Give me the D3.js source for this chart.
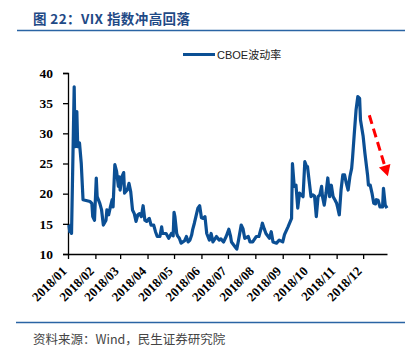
<!DOCTYPE html>
<html><head><meta charset="utf-8">
<script src="https://cdn.jsdelivr.net/npm/d3@7"></script>
<style>
html,body{margin:0;padding:0;background:#fff;}
svg{display:block;}
</style></head>
<body>
<svg id="c" width="419" height="357"></svg>
<script>
const dates = ["2018-01-02","2018-01-03","2018-01-04","2018-01-05","2018-01-08","2018-01-09","2018-01-11","2018-01-12","2018-01-14","2018-01-16","2018-01-18","2018-01-26","2018-01-28","2018-01-29","2018-01-31",
"2018-02-02","2018-02-03","2018-02-06","2018-02-08","2018-02-10","2018-02-13","2018-02-14","2018-02-16","2018-02-18","2018-02-20","2018-02-21","2018-02-23","2018-02-25","2018-02-27","2018-02-28",
"2018-03-01","2018-03-03","2018-03-05","2018-03-06","2018-03-09","2018-03-11","2018-03-13","2018-03-15","2018-03-17","2018-03-19","2018-03-21","2018-03-23","2018-03-25","2018-03-27","2018-03-29","2018-03-31",
"2018-04-03","2018-04-05","2018-04-08","2018-04-10","2018-04-12","2018-04-15","2018-04-17","2018-04-18","2018-04-22","2018-04-25","2018-04-28","2018-04-30",
"2018-05-01","2018-05-02","2018-05-04","2018-05-05","2018-05-07","2018-05-09","2018-05-11","2018-05-13","2018-05-15","2018-05-17","2018-05-19","2018-05-21","2018-05-22","2018-05-24","2018-05-27","2018-05-28","2018-05-30",
"2018-06-01","2018-06-03","2018-06-05","2018-06-07","2018-06-10","2018-06-12","2018-06-14","2018-06-18","2018-06-21","2018-06-23","2018-06-26","2018-06-29",
"2018-07-02","2018-07-04","2018-07-05","2018-07-09","2018-07-11","2018-07-13","2018-07-16","2018-07-18","2018-07-20","2018-07-24","2018-07-26","2018-07-29",
"2018-08-02","2018-08-05","2018-08-08","2018-08-09","2018-08-11","2018-08-13","2018-08-17","2018-08-19","2018-08-21","2018-08-25","2018-08-28",
"2018-09-01","2018-09-03","2018-09-07","2018-09-11","2018-09-12","2018-09-14","2018-09-16","2018-09-18","2018-09-20","2018-09-22","2018-09-24","2018-09-26","2018-09-28","2018-09-29",
"2018-10-01","2018-10-03","2018-10-05","2018-10-07","2018-10-09","2018-10-11","2018-10-13","2018-10-15","2018-10-16","2018-10-18","2018-10-20","2018-10-22","2018-10-24","2018-10-26","2018-10-28","2018-10-30",
"2018-11-01","2018-11-02","2018-11-04","2018-11-06","2018-11-08","2018-11-10","2018-11-12","2018-11-14","2018-11-16","2018-11-18","2018-11-19","2018-11-21","2018-11-23","2018-11-25","2018-11-27","2018-11-28",
"2018-12-01","2018-12-03","2018-12-06","2018-12-07","2018-12-09","2018-12-11","2018-12-13","2018-12-15","2018-12-16","2018-12-18","2018-12-20","2018-12-23","2018-12-24","2018-12-25","2018-12-26","2018-12-28"];
const vix = [14.8,13.7,14.8,13.4,37.7,27.8,33.6,27.8,28.4,25.0,19.0,18.7,18.4,16.2,15.6,
22.6,19.5,18.4,17.3,14.8,15.6,17.3,16.5,17.8,19.0,17.8,24.8,23.7,21.2,22.8,
20.6,22.8,23.5,20.1,20.6,21.7,20.3,17.3,16.7,15.4,16.5,16.7,16.2,18.0,15.6,15.4,
15.9,14.8,14.8,13.7,12.9,12.9,14.5,13.4,13.4,12.6,13.4,13.0,
16.9,16.2,13.4,13.0,12.6,11.8,12.0,12.2,12.9,12.0,12.3,13.2,14.0,15.1,17.0,17.6,18.0,
16.0,15.9,16.2,13.4,12.3,13.4,12.0,12.9,12.3,12.5,12.0,12.9,
14.1,12.9,12.0,11.2,10.8,12.3,14.8,14.2,12.6,12.9,12.0,12.0,
12.9,12.9,14.5,15.1,14.2,13.4,12.6,13.7,12.0,11.8,12.3,
12.0,13.2,14.5,15.9,25.0,21.2,21.4,17.6,20.1,19.8,19.5,25.3,24.5,24.5,
22.0,19.5,19.8,19.6,16.2,19.5,19.8,21.2,19.5,18.1,20.1,22.6,19.5,21.4,19.5,19.0,
18.4,17.8,16.5,20.6,23.1,23.1,21.7,20.6,22.8,24.2,25.9,30.0,33.9,36.1,35.8,32.2,
29.5,26.7,23.1,21.4,21.4,20.1,18.4,18.3,19.0,18.9,17.8,17.8,20.9,19.5,18.1,17.6];
const monthTicks = ["2018-01-01","2018-02-01","2018-03-01","2018-04-01","2018-05-01","2018-06-01","2018-07-01","2018-08-01","2018-09-01","2018-10-01","2018-11-01","2018-12-01"];
const yTicks = [10,15,20,25,30,35,40];
const seriesName = "CBOE波动率";
const titleText = "图 22：VIX 指数冲高回落";
const sourceText = "资料来源：Wind，民生证券研究院";
const arrowFrom = {date:"2018-12-08", value:33.0};
const arrowTo = {date:"2018-12-29", value:22.9};

const parse = d3.utcParse("%Y-%m-%d");
const fmt = d3.utcFormat("%Y/%m");
const data = dates.map((d,i)=>({date:parse(d), value:vix[i]}));

const svg = d3.select("#c");
const L=68, R=387, T=73, B=254;
const x = d3.scaleUtc().domain([parse("2018-01-01"), parse("2018-12-28")]).range([L,R]);
const y = d3.scaleLinear().domain([10,40]).range([B,T]);

// title
svg.append("text").attr("x",33).attr("y",24)
  .attr("font-family","'Noto Sans CJK SC'").attr("font-weight","bold").attr("font-size",13.5)
  .attr("letter-spacing",0.4)
  .attr("fill","#1f4a86").text(titleText);
svg.append("line").attr("x1",17).attr("x2",405).attr("y1",30.5).attr("y2",30.5)
  .attr("stroke","#2a64a4").attr("stroke-width",1.5);

// axes
const yAxis = d3.axisLeft(y).tickValues(yTicks).tickSize(5).tickPadding(10);
const gy = svg.append("g").attr("transform",`translate(${L},0)`).call(yAxis);
gy.select(".domain").attr("stroke","#000").attr("stroke-width",1.3);
gy.selectAll(".tick line").attr("stroke","#000").attr("stroke-width",1.3);
gy.selectAll("text").attr("font-family","'Liberation Serif'").attr("font-weight","bold").attr("font-size",13.5).attr("fill","#000");

const xAxis = d3.axisBottom(x).tickValues(monthTicks.map(parse)).tickFormat(fmt).tickSize(5).tickSizeOuter(0);
const gx = svg.append("g").attr("transform",`translate(0,${B})`).call(xAxis);
gx.select(".domain").attr("stroke","#000").attr("stroke-width",1.3);
gx.selectAll(".tick line").attr("stroke","#000").attr("stroke-width",1.3);
gx.selectAll("text").attr("font-family","'Liberation Serif'").attr("font-weight","bold").attr("font-size",13).attr("fill","#000")
  .attr("text-anchor","end").attr("dx","0").attr("dy","0").attr("y",0)
  .attr("transform","translate(-1,18) rotate(-45)");

// line
const line = d3.line().x(d=>x(d.date)).y(d=>y(d.value)).curve(d3.curveLinear);
svg.append("path").datum(data).attr("d",line).attr("fill","none")
  .attr("stroke","#0b4f94").attr("stroke-width",3.2).attr("stroke-linejoin","round");

// legend
svg.append("line").attr("x1",183).attr("x2",215).attr("y1",54.5).attr("y2",54.5)
  .attr("stroke","#0b4f94").attr("stroke-width",3);
svg.append("text").attr("x",217).attr("y",58.5)
  .attr("font-family","'Liberation Sans','Noto Sans CJK SC'").attr("font-size",11).attr("fill","#222")
  .text(seriesName);

// red dashed arrow
const ax1=x(parse(arrowFrom.date)), ay1=y(arrowFrom.value), ax2=x(parse(arrowTo.date)), ay2=y(arrowTo.value);
const ang=Math.atan2(ay2-ay1, ax2-ax1);
const headLen=11, headW=6;
const bx=ax2-headLen*Math.cos(ang), by=ay2-headLen*Math.sin(ang);
svg.append("line").attr("x1",ax1).attr("y1",ay1).attr("x2",bx).attr("y2",by)
  .attr("stroke","#ff0000").attr("stroke-width",3).attr("stroke-dasharray","9,5");
const px=-Math.sin(ang), py=Math.cos(ang);
svg.append("path").attr("d",`M${ax2},${ay2}L${bx+px*headW},${by+py*headW}L${bx-px*headW},${by-py*headW}Z`).attr("fill","#ff0000");

// footer
svg.append("line").attr("x1",16).attr("x2",405).attr("y1",322.5).attr("y2",322.5)
  .attr("stroke","#2a64a4").attr("stroke-width",1.5);
svg.append("text").attr("x",33).attr("y",344)
  .attr("font-family","'Noto Sans CJK SC'").attr("font-size",12.5).attr("fill","#444").text(sourceText);
</script>
</body></html>
